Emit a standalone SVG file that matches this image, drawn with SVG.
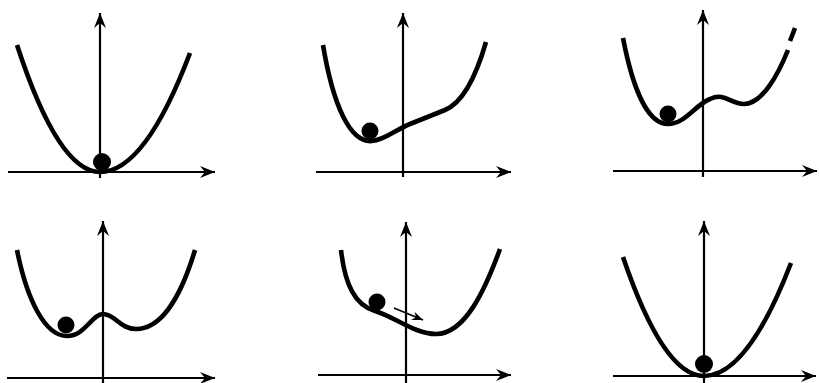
<svg xmlns="http://www.w3.org/2000/svg" width="819" height="383" viewBox="0 0 819 383">
<defs>
<marker id="ah" markerUnits="userSpaceOnUse" markerWidth="18" markerHeight="16" viewBox="-16 -8 18 16" refX="0" refY="0" orient="auto">
<path d="M0,0 L-15,-6 L-10,0 L-15,6 Z" fill="#000"/>
</marker>
<marker id="ahs" markerUnits="userSpaceOnUse" markerWidth="14" markerHeight="12" viewBox="-13 -6 14 12" refX="0" refY="0" orient="auto">
<path d="M0,0 L-11,-4.5 L-7.5,0 L-11,4.5 Z" fill="#000"/>
</marker>
<style>
.ax{stroke:#000;stroke-width:2.2;fill:none;marker-end:url(#ah)}
.cv{stroke:#000;stroke-width:4.6;fill:none;stroke-linecap:butt;stroke-linejoin:round}
.ball{fill:#000}
</style>
</defs>
<rect width="819" height="383" fill="#fff"/>

<g id="panel1">
<line class="ax" x1="100" y1="178" x2="100" y2="13"/>
<line class="ax" x1="8" y1="172" x2="215" y2="172"/>
<path class="cv" d="M17,45 Q58.5,172 100,172 Q145,172 190,53"/>
<circle class="ball" cx="102" cy="162" r="9"/>
</g>

<g id="panel2">
<line class="ax" x1="403" y1="177" x2="403" y2="13"/>
<line class="ax" x1="316" y1="172" x2="511" y2="172"/>
<path class="cv" d="M323,45 C333,105 350,143 372,141 C385,140 395,130 410,124 L445,110 C462,103 475,80 486,42"/>
<circle class="ball" cx="370" cy="131" r="8.5"/>
</g>

<g id="panel3">
<line class="ax" x1="703" y1="177" x2="703" y2="10"/>
<line class="ax" x1="613" y1="171" x2="817" y2="171"/>
<path class="cv" d="M623,38 C633,90 648,124 668,124 C685,124 695,105 710,99 C725,92 730,104 744,104 C762,104 778,75 788,50"/>
<path class="cv" d="M790,41 L795,28"/>
<circle class="ball" cx="668" cy="114" r="8.5"/>
</g>

<g id="panel4">
<line class="ax" x1="103" y1="383" x2="103" y2="221"/>
<line class="ax" x1="7" y1="378" x2="215" y2="378"/>
<path class="cv" d="M17,250 C27,300 45,336 67,336 C85,336 92,314 103,314 C115,314 120,329 136,329 C160,329 180,300 195,250"/>
<circle class="ball" cx="66" cy="325" r="8.5"/>
</g>

<g id="panel5">
<line class="ax" x1="406" y1="383" x2="406" y2="222"/>
<line class="ax" x1="318" y1="375" x2="511" y2="375"/>
<path class="cv" d="M341,250 C345,285 355,305 375,311 C395,317 415,334 436,334 C465,334 485,290 500,249"/>
<circle class="ball" cx="377" cy="302" r="8.5"/>
<line x1="394" y1="308" x2="423" y2="320" stroke="#000" stroke-width="1.8" marker-end="url(#ahs)"/>
</g>

<g id="panel6">
<line class="ax" x1="704" y1="383" x2="704" y2="221"/>
<line class="ax" x1="613" y1="376" x2="816" y2="376"/>
<path class="cv" d="M623,257 Q663.5,376 704,376 Q747.5,376 791,263"/>
<circle class="ball" cx="704" cy="364" r="9"/>
</g>
</svg>
